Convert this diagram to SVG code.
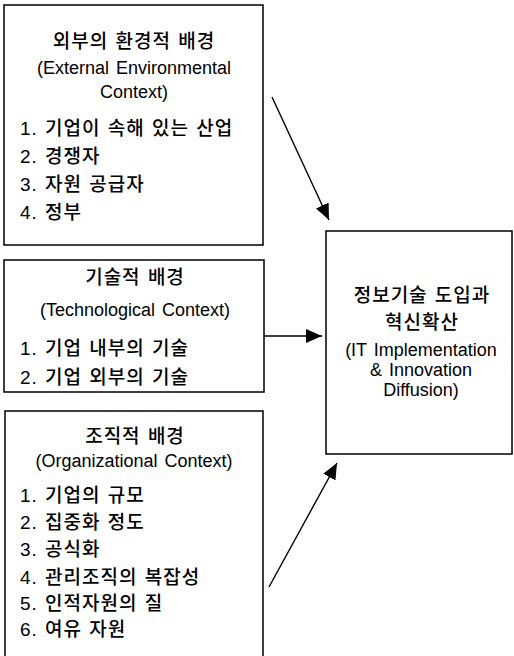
<svg xmlns="http://www.w3.org/2000/svg" width="514" height="656" viewBox="0 0 514 656">
<defs>
<style>
.box{fill:none;stroke:#000;stroke-width:1.5}
.t{font-family:"Liberation Sans","Noto Sans CJK KR",sans-serif;font-size:19px;font-weight:500;fill:#000;letter-spacing:1px;word-spacing:1px}
.e{font-family:"Liberation Sans","Noto Sans CJK KR",sans-serif;font-size:18px;fill:#000;word-spacing:2px}
.c{text-anchor:middle}
.ln{stroke:#000;stroke-width:1.4;fill:none}
</style>
<marker id="ah" markerUnits="userSpaceOnUse" markerWidth="18" markerHeight="14" refX="16" refY="7" orient="auto">
<path d="M0,0 L16,7 L0,14 Z" fill="#000"/>
</marker>
</defs>
<rect width="514" height="656" fill="#fff"/>
<g id="external">
<rect class="box" x="4" y="5" width="259" height="240"/>
<text class="t c" x="134" y="48">외부의 환경적 배경</text>
<text class="e c" x="134" y="74">(External Environmental</text>
<text class="e c" x="134" y="98">Context)</text>
<text class="t" x="20" y="135">1. 기업이 속해 있는 산업</text>
<text class="t" x="20" y="163">2. 경쟁자</text>
<text class="t" x="20" y="191">3. 자원 공급자</text>
<text class="t" x="20" y="219">4. 정부</text>
</g>
<g id="technological">
<rect class="box" x="4" y="260" width="260" height="132"/>
<text class="t c" x="135" y="284">기술적 배경</text>
<text class="e c" x="135" y="316">(Technological Context)</text>
<text class="t" x="20" y="355">1. 기업 내부의 기술</text>
<text class="t" x="20" y="384">2. 기업 외부의 기술</text>
</g>
<g id="organizational">
<path class="box" d="M5,660 L5,411 L263,411 L263,660"/>
<text class="t c" x="135" y="443">조직적 배경</text>
<text class="e c" x="134" y="467">(Organizational Context)</text>
<text class="t" x="20" y="502">1. 기업의 규모</text>
<text class="t" x="20" y="529">2. 집중화 정도</text>
<text class="t" x="20" y="556">3. 공식화</text>
<text class="t" x="20" y="584">4. 관리조직의 복잡성</text>
<text class="t" x="20" y="610">5. 인적자원의 질</text>
<text class="t" x="20" y="636">6. 여유 자원</text>
</g>
<g id="it">
<rect class="box" x="326" y="231" width="186" height="223"/>
<text class="t c" x="422" y="302">정보기술 도입과</text>
<text class="t c" x="422" y="329">혁신확산</text>
<text class="e c" x="421" y="356">(IT Implementation</text>
<text class="e c" x="421" y="376">&amp; Innovation</text>
<text class="e c" x="421" y="396">Diffusion)</text>
</g>
<g id="connectors">
<line class="ln" x1="272" y1="97" x2="329" y2="220" marker-end="url(#ah)"/>
<line class="ln" x1="264" y1="336" x2="322" y2="336" marker-end="url(#ah)"/>
<line class="ln" x1="269" y1="587" x2="337" y2="463" marker-end="url(#ah)"/>
</g>
</svg>
